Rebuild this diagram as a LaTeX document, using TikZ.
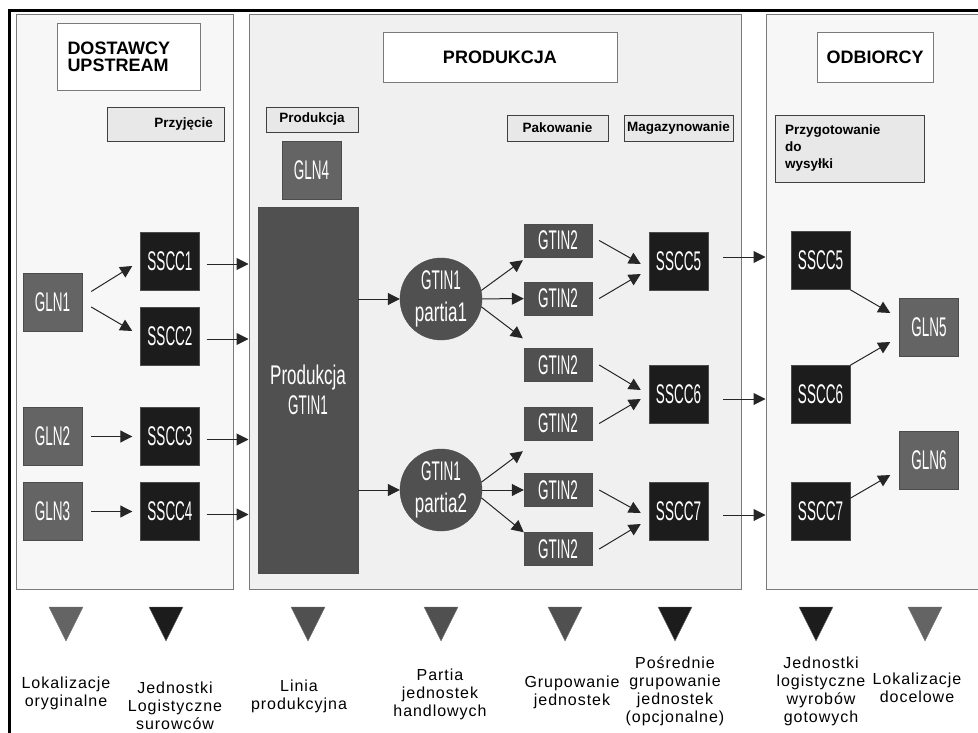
\documentclass[tikz,border=0pt]{standalone}
\usepackage{fontspec}
\setmainfont{Liberation Sans}
\newfontfamily\tagfont[FakeStretch=0.5]{Liberation Sans}
\newfontfamily\tagfontw[FakeStretch=0.63]{Liberation Sans}
\newfontfamily\legfont[LetterSpace=6]{Liberation Sans}
\usetikzlibrary{arrows.meta,calc,positioning}

\definecolor{glngray}{HTML}{646464}
\definecolor{gtingray}{HTML}{505050}
\definecolor{ssccblack}{HTML}{1C1C1C}
\definecolor{paneledge}{HTML}{7A7A7A}

\begin{document}
\begin{tikzpicture}[x=1pt,y=-1pt,>={Triangle[length=12pt,width=12pt]},
    panel/.style={draw=paneledge,line width=1pt,minimum width=#1,minimum height=574pt,inner sep=0pt},
    title/.style={draw=paneledge,fill=white,font=\bfseries\fontsize{18}{18}\selectfont,inner sep=0pt,minimum height=50pt},
    stage/.style={draw=black!75,fill=black!9,font=\bfseries\fontsize{13.5}{17}\selectfont,inner sep=0pt,minimum height=26pt},
    tag/.style={draw=black!70,text=white,font=\tagfont\fontsize{27}{30}\selectfont,inner sep=0pt,minimum width=59pt,minimum height=58pt,align=center},
    gln/.style={tag,fill=glngray},
    sscc/.style={tag,fill=ssccblack},
    gtin/.style={tag,fill=gtingray,minimum width=68pt,minimum height=33pt},
    lot/.style={tag,circle,fill=gtingray,minimum size=82pt,font=\tagfont\fontsize{27}{32}\selectfont},
    legend/.style={font=\legfont\fontsize{16}{18}\selectfont,align=center,inner sep=0pt},
    flow/.style={->,line width=1pt,black!85}]
  \useasboundingbox (0,0) rectangle (978,733);
  \clip (0,0) rectangle (978,733);

  % three areas
  \node[panel=217pt,fill=black!3] (dost) at (124.5,302) {};
  \node[panel=492pt,fill=black!6] (prodpanel) at (495,302) {};
  \node[panel=234pt,fill=black!3] (odb) at (883,302) {};
  \draw[line width=3pt] (9,745) -- (9,10.3) -- (990,10.3);

  \node[title,minimum width=143pt,minimum height=67pt,text width=122pt,align=left] (tdost) at (128.5,56.5) {DOSTAWCY\\[-1pt]UPSTREAM};
  \node[title,minimum width=234pt] (tprod) at (500,57) {PRODUKCJA};
  \node[title,minimum width=116pt] (todb) at (875,57) {ODBIORCY};

  \node[stage,minimum width=117pt,minimum height=34pt,text width=95pt,align=right] (sprzyj) at (165.5,124) {Przyjęcie};
  \node[stage,minimum width=92pt,minimum height=25pt] (sprod) at (312,119.5) {Produkcja};
  \node[stage,minimum width=101pt] (spak) at (557.5,128) {Pakowanie};
  \node[stage,minimum width=109pt] (smag) at (678.5,128) {Magazynowanie};
  \node[stage,minimum width=149pt,minimum height=67pt,text width=129pt,align=left] (swys) at (849.5,148.5) {Przygotowanie\\do\\wysyłki};

  % suppliers
  \node[gln] (gln1) at (52.5,302.5) {GLN1};
  \node[gln] (gln2) at (52.5,436.5) {GLN2};
  \node[gln] (gln3) at (52.5,511.5) {GLN3};
  \node[sscc] (sscc1) at (170,261) {SSCC1};
  \node[sscc] (sscc2) at (170,336) {SSCC2};
  \node[sscc] (sscc3) at (170,436.5) {SSCC3};
  \node[sscc] (sscc4) at (170,511.5) {SSCC4};

  % production
  \node[gln] (gln4) at (311.5,170) {GLN4};
  \node[tag,fill=gtingray,minimum width=100pt,minimum height=366pt] (linia) at (308,390) {{\tagfontw Produkcja}\\GTIN1};
  \node[lot] (lot1) at (441,299) {GTIN1\\{\tagfontw partia1}};
  \node[lot] (lot2) at (441,490) {GTIN1\\{\tagfontw partia2}};
  \node[gtin] (g1) at (558,240.5) {GTIN2};
  \node[gtin] (g2) at (558,298.5) {GTIN2};
  \node[gtin] (g3) at (558,365) {GTIN2};
  \node[gtin] (g4) at (558,423.5) {GTIN2};
  \node[gtin] (g5) at (558,490) {GTIN2};
  \node[gtin] (g6) at (558,549) {GTIN2};
  \node[sscc] (sscc5) at (678.5,261) {SSCC5};
  \node[sscc] (sscc6) at (678.5,394.5) {SSCC6};
  \node[sscc] (sscc7) at (678.5,511.5) {SSCC7};

  % customers
  \node[sscc] (rsscc5) at (820.5,260.5) {SSCC5};
  \node[sscc] (rsscc6) at (820.5,394.5) {SSCC6};
  \node[sscc] (rsscc7) at (820.5,511.5) {SSCC7};
  \node[gln] (gln5) at (929,327.5) {GLN5};
  \node[gln] (gln6) at (929,460.5) {GLN6};

  % flows
  \draw[flow] ($(gln1.east)+(9,-11)$) -- ($(sscc1.west)+(-8,5)$);
  \draw[flow] ($(gln1.east)+(9,4.5)$) -- ($(sscc2.west)+(-8,-5)$);
  \draw[flow,shorten <=9pt,shorten >=8pt] (gln2) -- (sscc3);
  \draw[flow,shorten <=9pt,shorten >=8pt] (gln3) -- (sscc4);
  \foreach \s in {sscc1,sscc2,sscc3,sscc4}
    \draw[flow] ($(\s.east)+(7,3)$) -- ($(\s.east -| prodpanel.west)+(0,3)$);

  \draw[flow] (linia.east |- lot1) -- (lot1);
  \draw[flow] (linia.east |- lot2) -- (lot2);
  \draw[flow] (lot1.12) -- ($(g1.south west)+(-1,3)$);
  \draw[flow] (lot1) -- (g2);
  \draw[flow] (lot1.-11) -- ($(g3.north west)+(-1,-10)$);
  \draw[flow] (lot2.11) -- ($(g4.south west)+(-1,11)$);
  \draw[flow] (lot2) -- (g5);
  \draw[flow] (lot2.-11) -- (g6.north west);

  \foreach \a/\b/\dy in {g1/sscc5/3,g2/sscc5/13,g3/sscc6/-4.5,g4/sscc6/4.5,g5/sscc7/1.5,g6/sscc7/12.5}
    \draw[flow] ($(\a.east)+(7,0)$) -- ($(\b.west)+(-8,\dy)$);
  \foreach \s/\dy in {sscc5/-4,sscc6/4.5,sscc7/3.5}
    \draw[flow] ($(\s.east)+(15,\dy)$) -- ($(\s.east -| odb.west)+(0,\dy)$);

  \draw[flow] (rsscc5.south east) -- ($(gln5.west)+(-9,-14.5)$);
  \draw[flow] (rsscc6.north east) -- ($(gln5.west)+(-9,14.5)$);
  \draw[flow] ($(rsscc7.north east)+(0,16)$) -- ($(gln6.west)+(-9,14.5)$);

  % legend
  \foreach \x/\c in {66/glngray,166/ssccblack,308/gtingray,441/gtingray,565/gtingray,675/ssccblack,816/ssccblack,925/glngray}
    \filldraw[fill=\c,draw=black!55] (\x-17,607) -- (\x+17,607) -- (\x,641) -- cycle;
  \node[legend] (leg1) at (66,693) {Lokalizacje\\oryginalne};
  \node[legend] (leg2) at (175,706) {Jednostki\\Logistyczne\\surowców};
  \node[legend] (leg3) at (299,696) {Linia\\produkcyjna};
  \node[legend] (leg4) at (440,694) {Partia\\jednostek\\handlowych};
  \node[legend] (leg5) at (572,692) {Grupowanie\\jednostek};
  \node[legend] (leg6) at (675,691) {Pośrednie\\grupowanie\\jednostek\\(opcjonalne)};
  \node[legend] (leg7) at (821,691) {Jednostki\\logistyczne\\wyrobów\\gotowych};
  \node[legend] (leg8) at (917,688) {Lokalizacje\\docelowe};
\end{tikzpicture}
\end{document}
